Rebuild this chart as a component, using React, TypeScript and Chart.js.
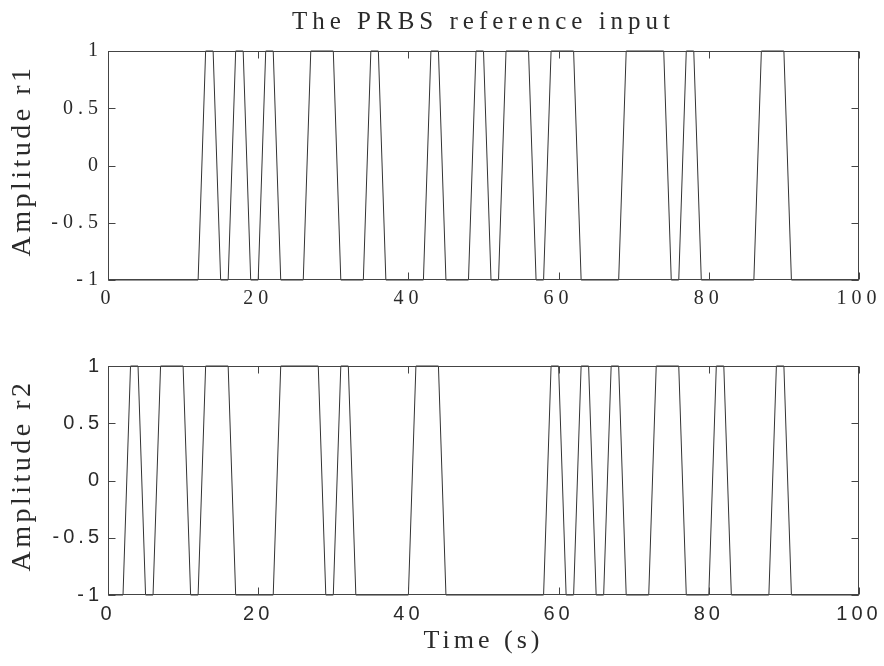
import { useEffect, useRef } from 'react';
import { Chart, registerables } from 'chart.js';

Chart.register(...registerables);

// ---- data ----
const xTickValues = [0, 20, 40, 60, 80, 100];
const yTickValues = [-1, -0.5, 0, 0.5, 1];

const r1Time = [0, 12, 13, 14, 15, 16, 17, 18, 19, 20, 21, 22, 23, 26, 27, 30, 31, 34, 35, 36, 37, 42, 43, 44, 45, 48, 49, 50, 51, 52, 53, 56, 57, 58, 59, 62, 63, 68, 69, 74, 75, 76, 77, 78, 79, 86, 87, 90, 91, 100];
const r1Value = [-1, -1, 1, 1, -1, -1, 1, 1, -1, -1, 1, 1, -1, -1, 1, 1, -1, -1, 1, 1, -1, -1, 1, 1, -1, -1, 1, 1, -1, -1, 1, 1, -1, -1, 1, 1, -1, -1, 1, 1, -1, -1, 1, 1, -1, -1, 1, 1, -1, -1];

const r2Time = [0, 2, 3, 4, 5, 6, 7, 10, 11, 12, 13, 16, 17, 22, 23, 28, 29, 30, 31, 32, 33, 40, 41, 44, 45, 58, 59, 60, 61, 62, 63, 64, 65, 66, 67, 68, 69, 72, 73, 76, 77, 80, 81, 82, 83, 88, 89, 90, 91, 100];
const r2Value = [-1, -1, 1, 1, -1, -1, 1, 1, -1, -1, 1, 1, -1, -1, 1, 1, -1, -1, 1, 1, -1, -1, 1, 1, -1, -1, 1, 1, -1, -1, 1, 1, -1, -1, 1, 1, -1, -1, 1, 1, -1, -1, 1, 1, -1, -1, 1, 1, -1, -1];

const TITLE = 'The PRBS reference input';
const Y1_LABEL = 'Amplitude r1';
const Y2_LABEL = 'Amplitude r2';
const X_LABEL = 'Time (s)';

const SERIF = '"Liberation Serif", "Times New Roman", serif';
const SANS = '"Liberation Sans", Arial, sans-serif';
const TEXT = '#2a2a2a';

const boxPlugin = {
  id: 'matlabBox',
  afterDatasetsDraw(chart: any) {
    const { ctx, chartArea: a, scales } = chart;
    const xs = scales.x;
    const ys = scales.y;
    ctx.save();
    ctx.strokeStyle = '#444';
    ctx.lineWidth = 1;
    const L = Math.round(a.left) + 0.5;
    const R = Math.round(a.right) - 0.5;
    const T = Math.round(a.top) + 0.5;
    const B = Math.round(a.bottom) - 0.5;
    ctx.strokeRect(L, T, R - L, B - T);
    const len = 7;
    ctx.beginPath();
    for (const v of xTickValues) {
      const px = Math.round(xs.getPixelForValue(v)) + 0.5;
      ctx.moveTo(px, B);
      ctx.lineTo(px, B - len);
      ctx.moveTo(px, T);
      ctx.lineTo(px, T + len);
    }
    for (const v of yTickValues) {
      const py = Math.round(ys.getPixelForValue(v)) + 0.5;
      ctx.moveTo(L, py);
      ctx.lineTo(L + len, py);
      ctx.moveTo(R, py);
      ctx.lineTo(R - len, py);
    }
    ctx.stroke();
    ctx.restore();
  },
};

function spacingPlugin(px: number) {
  return {
    id: 'letterSpacing',
    beforeDraw(chart: any) {
      try {
        (chart.ctx as any).letterSpacing = px + 'px';
      } catch (e) {
        /* ignore */
      }
    },
  };
}

function yTitlePlugin(text: string, x: number, dy: number) {
  return {
    id: 'yTitle',
    afterDraw(chart: any) {
      const { ctx, chartArea: a } = chart;
      ctx.save();
      try {
        (ctx as any).letterSpacing = '3.5px';
      } catch (e) {
        /* ignore */
      }
      ctx.font = '28px ' + SERIF;
      ctx.fillStyle = TEXT;
      ctx.translate(x, (a.top + a.bottom) / 2 + dy);
      ctx.rotate(-Math.PI / 2);
      ctx.textAlign = 'center';
      ctx.textBaseline = 'middle';
      ctx.fillText(text, 0, 0);
      ctx.restore();
    },
  };
}

interface PanelOpts {
  times: number[];
  values: number[];
  yLabel: string;
  yLabelX: number;
  title?: string;
  xLabel?: string;
  tickFont: { family: string; size: number };
  spacing: number;
  topPad: number;
  xHeight: number;
}

function makeConfig(o: PanelOpts): any {
  const points = o.times.map((t, i) => ({ x: t, y: o.values[i] }));
  return {
    type: 'line',
    data: {
      datasets: [
        {
          label: o.yLabel,
          data: points,
          borderColor: '#333',
          borderWidth: 1,
          pointRadius: 0,
          tension: 0,
          fill: false,
          clip: 2,
        },
      ],
    },
    plugins: [boxPlugin, spacingPlugin(o.spacing), yTitlePlugin(o.yLabel, o.yLabelX, -5)],
    options: {
      animation: false,
      responsive: false,
      maintainAspectRatio: false,
      events: [],
      layout: { padding: { left: 0, right: 25, top: o.topPad, bottom: 0 } },
      plugins: {
        legend: { display: false },
        tooltip: { enabled: false },
        title: o.title
          ? {
              display: true,
              fullSize: false,
              text: o.title,
              color: TEXT,
              font: { family: SERIF, size: 25, weight: 'normal' },
              padding: { top: 7, bottom: 14 },
            }
          : { display: false },
      },
      scales: {
        x: {
          type: 'linear',
          min: 0,
          max: 100,
          afterFit: (s: any) => {
            s.height = o.xHeight;
          },
          grid: { display: false, drawTicks: false },
          border: { display: false },
          ticks: {
            stepSize: 20,
            autoSkip: false,
            maxRotation: 0,
            padding: 7,
            color: TEXT,
            font: o.tickFont,
            callback: (v: any) => String(v),
          },
          title: o.xLabel
            ? {
                display: true,
                text: o.xLabel,
                color: TEXT,
                font: { family: SERIF, size: 26 },
                padding: { top: 0, bottom: 9 },
              }
            : { display: false },
        },
        y: {
          type: 'linear',
          min: -1,
          max: 1,
          afterFit: (s: any) => {
            s.width = 108;
          },
          grid: { display: false, drawTicks: false },
          border: { display: false },
          ticks: {
            stepSize: 0.5,
            autoSkip: false,
            padding: 5,
            color: TEXT,
            font: o.tickFont,
            callback: (v: any) => String(v),
          },
        },
      },
    },
  };
}

function Panel(props: { top: number; height: number; opts: PanelOpts }) {
  const ref = useRef<HTMLCanvasElement | null>(null);
  useEffect(() => {
    if (!ref.current) return;
    const chart = new Chart(ref.current, makeConfig(props.opts));
    return () => chart.destroy();
  }, []);
  return (
    <canvas
      ref={ref}
      width={884}
      height={props.height}
      style={{ position: 'absolute', left: 0, top: props.top, width: 884, height: props.height }}
    />
  );
}

export default function App() {
  return (
    <div style={{ position: 'absolute', left: 0, top: 0, width: 884, height: 666, background: '#fff' }}>
      <Panel
        top={0}
        height={322}
        opts={{
          times: r1Time,
          values: r1Value,
          yLabel: Y1_LABEL,
          yLabelX: 22.5,
          title: TITLE,
          tickFont: { family: SERIF, size: 20 },
          spacing: 5,
          topPad: 0,
          xHeight: 42,
        }}
      />
      <Panel
        top={322}
        height={344}
        opts={{
          times: r2Time,
          values: r2Value,
          yLabel: Y2_LABEL,
          yLabelX: 23,
          xLabel: X_LABEL,
          tickFont: { family: SANS, size: 20 },
          spacing: 4,
          topPad: 44,
          xHeight: 71,
        }}
      />
    </div>
  );
}
